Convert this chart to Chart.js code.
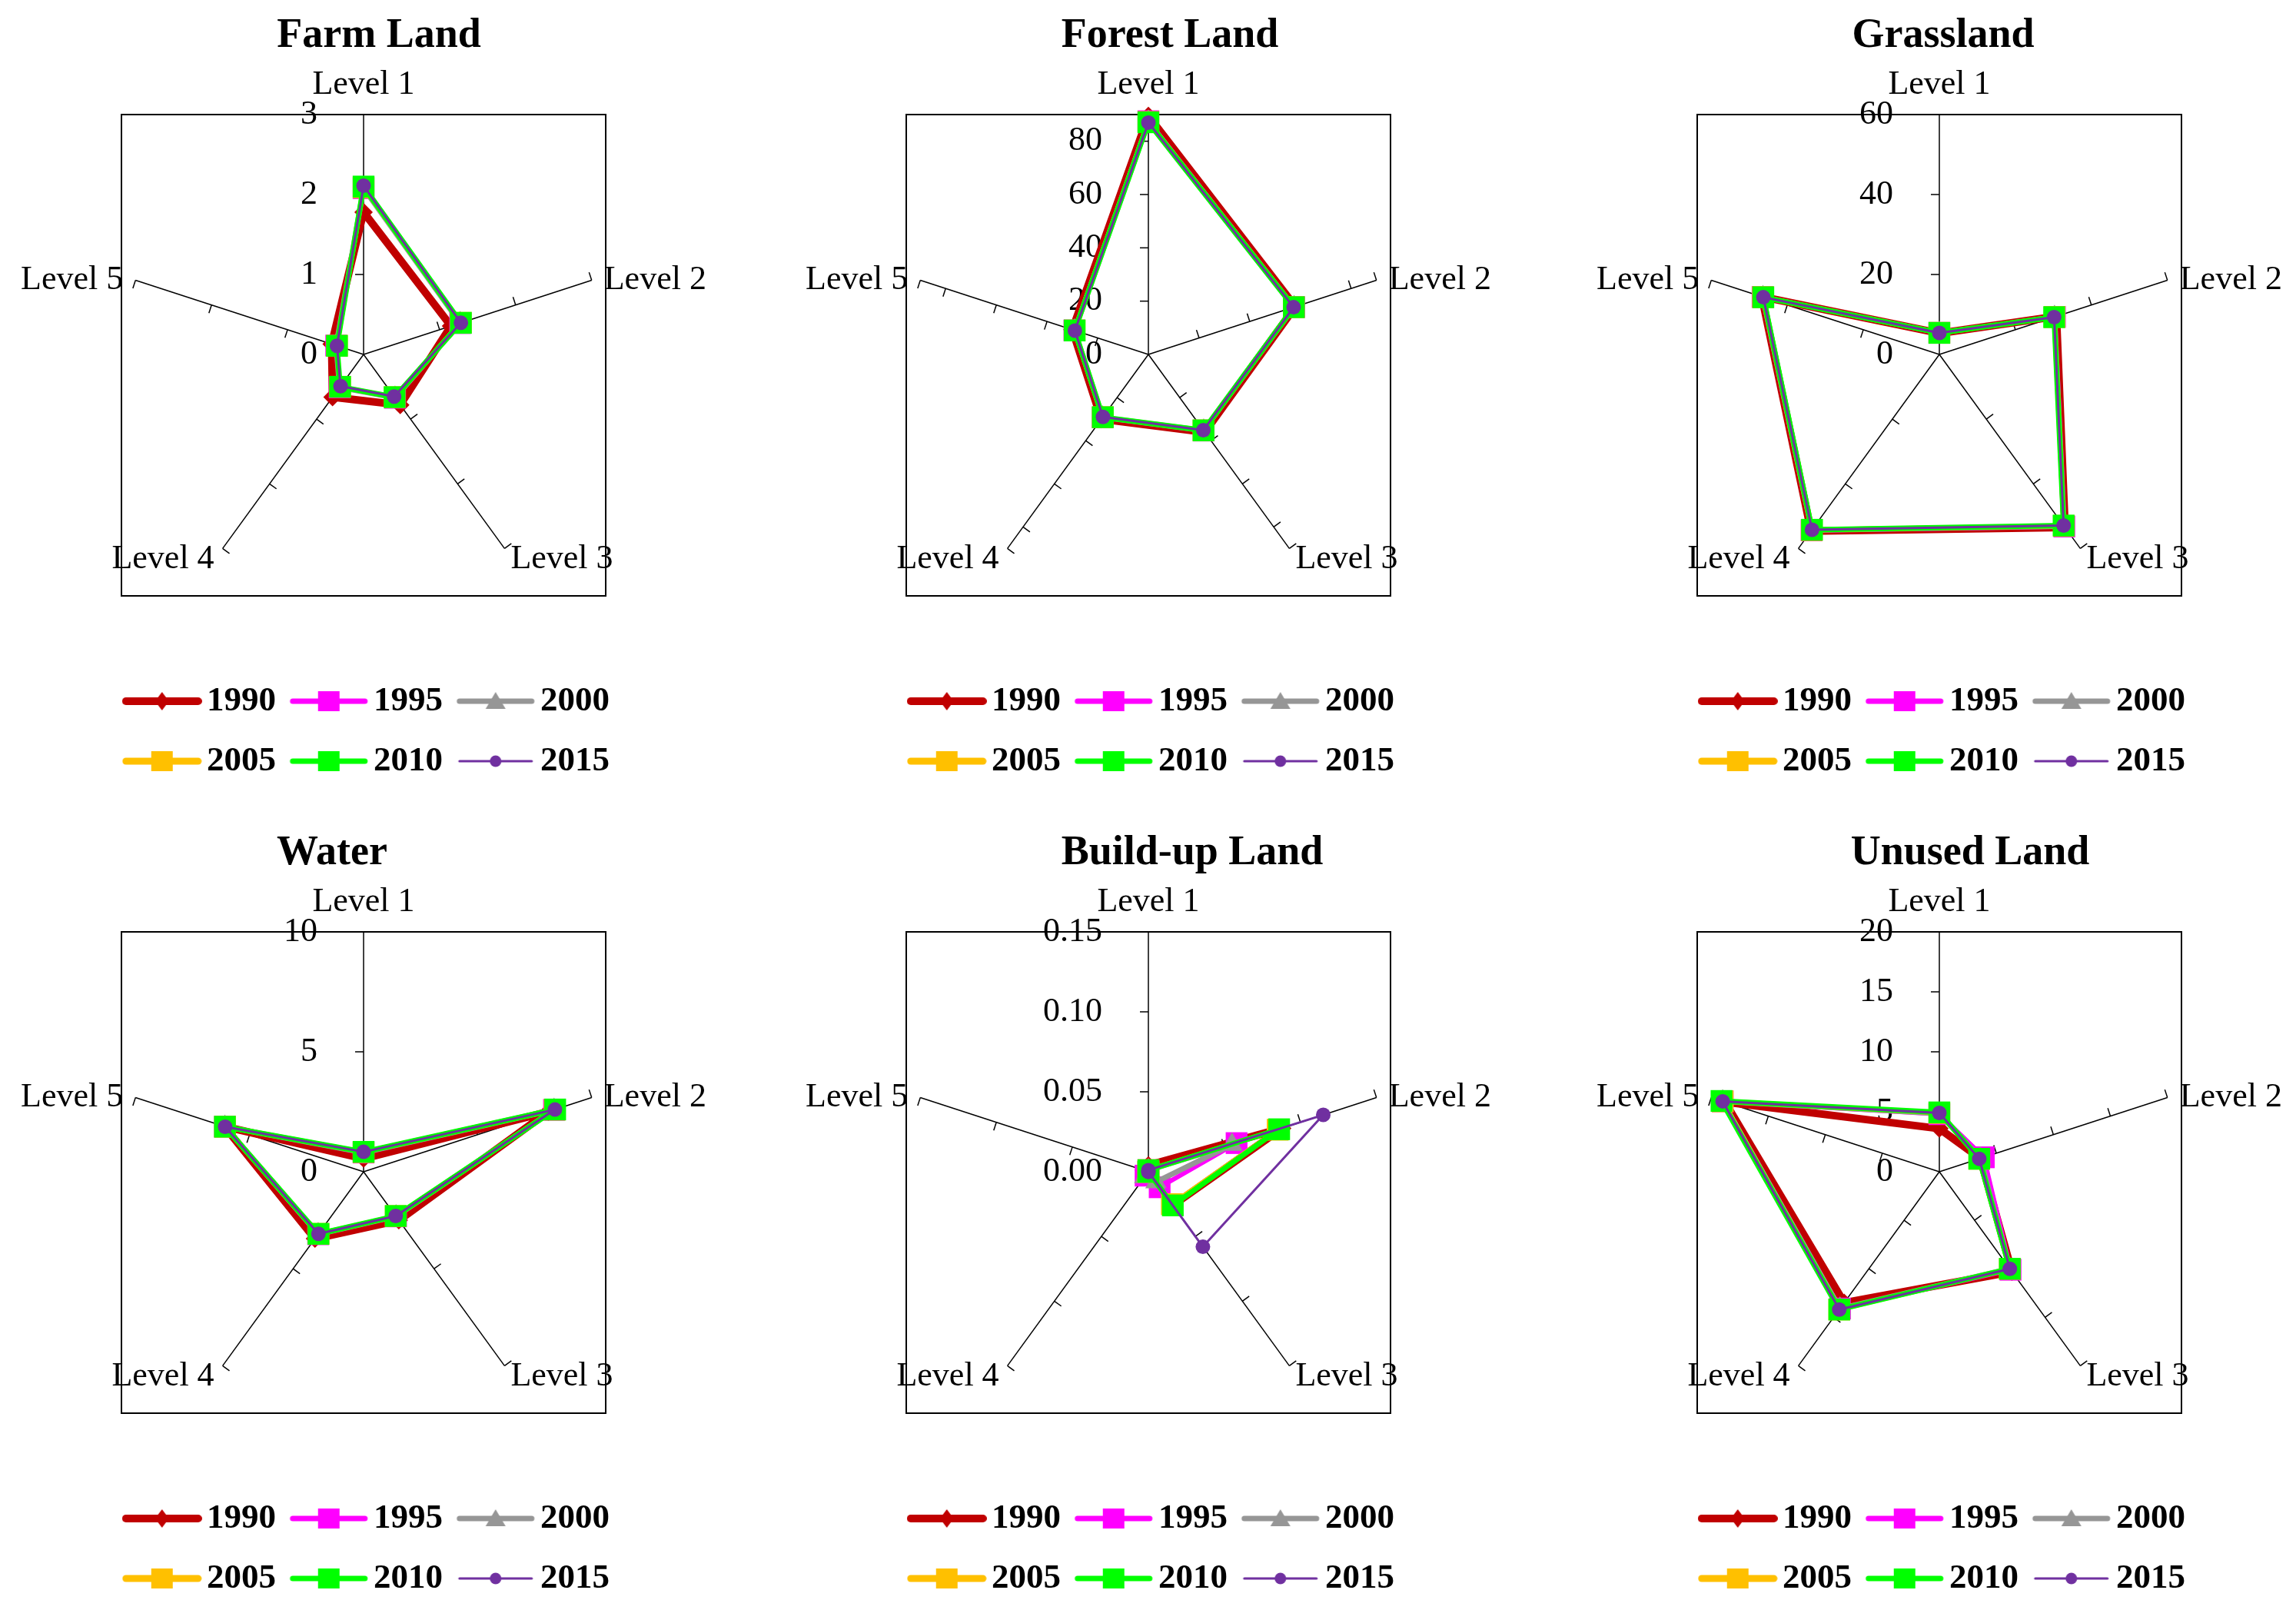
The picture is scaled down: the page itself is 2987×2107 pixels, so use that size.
<!DOCTYPE html>
<html>
<head>
<meta charset="utf-8">
<script src="https://cdn.jsdelivr.net/npm/chart.js@4.4.1/dist/chart.umd.min.js"></script>
<style>
html, body { margin: 0; padding: 0; background: #fff; }
body { width: 2987px; height: 2107px; position: relative; overflow: hidden; }
canvas { position: absolute; }
</style>
</head>
<body>
<canvas id="c0" width="940" height="1044" style="left:3px;top:0px;width:940px;height:1044px"></canvas>
<canvas id="c1" width="940" height="1044" style="left:1024px;top:0px;width:940px;height:1044px"></canvas>
<canvas id="c2" width="940" height="1044" style="left:2053px;top:0px;width:940px;height:1044px"></canvas>
<canvas id="c3" width="940" height="1044" style="left:3px;top:1063px;width:940px;height:1044px"></canvas>
<canvas id="c4" width="940" height="1044" style="left:1024px;top:1063px;width:940px;height:1044px"></canvas>
<canvas id="c5" width="940" height="1044" style="left:2053px;top:1063px;width:940px;height:1044px"></canvas>
<script>
var levels = ['Level 1', 'Level 2', 'Level 3', 'Level 4', 'Level 5']
var years = ['1990', '1995', '2000', '2005', '2010', '2015']
var titles = ['Farm Land', 'Forest Land', 'Grassland', 'Water', 'Build-up Land', 'Unused Land']

// one row per year (1990 ... 2015), one value per level
var farmLand = [
	[1.78, 1.15, 0.78, 0.66, 0.42],
	[2.08, 1.27, 0.67, 0.51, 0.36],
	[2.08, 1.27, 0.67, 0.51, 0.36],
	[2.09, 1.28, 0.66, 0.50, 0.35],
	[2.10, 1.28, 0.66, 0.50, 0.35],
	[2.11, 1.28, 0.65, 0.49, 0.35]
]
var forestLand = [
	[89.5, 58.0, 36.0, 30.0, 30.0],
	[87.5, 57.5, 35.3, 29.2, 29.2],
	[87.3, 57.5, 35.3, 29.2, 29.1],
	[87.2, 57.4, 35.2, 29.1, 29.1],
	[87.1, 57.4, 35.2, 29.1, 29.1],
	[87.0, 57.3, 35.1, 29.0, 29.0]
]
var grassland = [
	[5.3, 30.8, 53.5, 54.6, 46.7],
	[5.4, 30.4, 53.2, 54.4, 46.5],
	[5.4, 30.3, 53.1, 54.3, 46.4],
	[5.4, 30.3, 53.0, 54.3, 46.4],
	[5.4, 30.2, 52.9, 54.2, 46.3],
	[5.4, 30.2, 52.9, 54.2, 46.3]
]
var water = [
	[0.55, 8.10, 2.50, 3.45, 6.10],
	[0.80, 8.35, 2.30, 3.22, 6.08],
	[0.80, 8.35, 2.30, 3.22, 6.08],
	[0.82, 8.38, 2.28, 3.20, 6.07],
	[0.83, 8.40, 2.28, 3.20, 6.08],
	[0.83, 8.39, 2.28, 3.20, 6.07]
]
var buildUp = [
	[0.004, 0.088, 0.026, 0.000, 0.003],
	[0.001, 0.058, 0.012, 0.003, 0.000],
	[0.001, 0.055, 0.008, 0.004, 0.000],
	[0.001, 0.085, 0.025, 0.000, 0.000],
	[0.001, 0.086, 0.026, 0.000, 0.000],
	[0.001, 0.115, 0.058, 0.000, 0.000]
]
var unusedLand = [
	[3.60, 3.6, 10.3, 13.5, 18.8],
	[4.80, 3.9, 10.1, 14.1, 19.0],
	[4.85, 3.6, 10.0, 14.1, 19.0],
	[4.90, 3.5, 10.0, 14.2, 19.0],
	[4.95, 3.5, 10.0, 14.2, 19.1],
	[4.90, 3.5, 10.0, 14.2, 19.0]
]
var axisMax = [3, 90, 60, 10, 0.15, 20]
var axisStep = [1, 20, 20, 5, 0.05, 5]
var tickDigits = [0, 0, 0, 0, 2, 0]

var panelData = [farmLand, forestLand, grassland, water, buildUp, unusedLand]

/* series look */
var lineColors = ['#C00000', '#FF00FF', '#969696', '#FFC000', '#00FF00', '#7030A0']
var lineWidths = [10, 6, 7, 6, 7, 3]
var legendWidths = [10, 7, 7, 9, 7, 3]
var pointStyles = ['rectRot', 'rect', 'triangle', 'rect', 'rect', 'circle']
var pointRadii = [12, 20, 16, 20, 20, 9.5]

/* the titles are not quite centred in the original */
var titleShift = [20, 28, 5, -41, 57, 40]

var serif = "'Liberation Serif', 'Times New Roman', serif"
Chart.defaults.font.family = serif
Chart.defaults.color = '#000'

/* small line+marker pictures for the legend */
function makeSwatch(i) {
	var c = document.createElement('canvas')
	c.width = 104
	c.height = 32
	var g = c.getContext('2d')
	var x = 52, y = 16
	g.strokeStyle = lineColors[i]
	g.fillStyle = lineColors[i]
	g.lineWidth = legendWidths[i]
	g.lineCap = 'round'
	g.beginPath()
	g.moveTo(5, y)
	g.lineTo(99, y)
	g.stroke()
	g.beginPath()
	if (i == 0) {
		g.moveTo(x, y - 12); g.lineTo(x + 9, y); g.lineTo(x, y + 12); g.lineTo(x - 9, y)
	} else if (pointStyles[i] == 'rect') {
		g.rect(x - 14, y - 13, 28, 26)
	} else if (pointStyles[i] == 'triangle') {
		g.moveTo(x, y - 12); g.lineTo(x + 13, y + 10); g.lineTo(x - 13, y + 10)
	} else {
		g.arc(x, y, 7.5, 0, Math.PI * 2)
	}
	g.closePath()
	g.fill()
	return c
}
var swatches = years.map((y, i) => makeSwatch(i))

/* where each level name sits, measured from the end of its spoke */
var labelShift = [[0, -39, 'center'], [16, 0, 'left'], [8, 14, 'left'], [-11, 14, 'right'], [-16, 0, 'right']]

/* frame, spoke ticks, value labels, level names and title (Excel look) */
var decor = {
	id: 'decor',
	beforeDatasetsDraw: function(chart, args, opts) {
		let ctx = chart.ctx
		let s = chart.scales.r
		let R = s.drawingArea, xc = s.xCenter, yc = s.yCenter
		ctx.save()
		ctx.strokeStyle = '#000'
		ctx.lineWidth = 2
		ctx.strokeRect(xc - R - 3, yc - R, 2 * R + 6, 2 * R + 2)

		let marks = s.ticks.map(t => t.value).filter(v => v > 0)
		if (Math.abs(marks[marks.length - 1] - s.max) > 1e-9) marks.push(s.max)
		ctx.lineWidth = 1.5
		for (let i = 0; i < chart.data.labels.length; i++) {
			let a = s.getIndexAngle(i) - Math.PI / 2
			let dx = Math.cos(a), dy = Math.sin(a)
			marks.forEach(v => {
				let p = s.getPointPositionForValue(i, v)
				ctx.beginPath()
				ctx.moveTo(p.x, p.y)
				ctx.lineTo(p.x + dy * 11, p.y - dx * 11)
				ctx.stroke()
			})
		}

		ctx.fillStyle = '#000'
		ctx.font = '44px ' + serif
		ctx.textAlign = 'right'
		ctx.textBaseline = 'middle'
		s.ticks.forEach(t => {
			ctx.fillText(t.value.toFixed(opts.digits), xc - 60, yc - s.getDistanceFromCenterForValue(t.value))
		})

		chart.data.labels.forEach((name, i) => {
			let p = s.getPointPositionForValue(i, s.max)
			let sh = labelShift[i]
			ctx.textAlign = sh[2]
			ctx.fillText(name, p.x + sh[0], p.y + sh[1])
		})

		ctx.font = 'bold 54px ' + serif
		ctx.textAlign = 'center'
		ctx.fillText(opts.title, xc + opts.shift, 47)
		ctx.restore()
	}
}

panelData.forEach((rows, k) => {
	new Chart(document.getElementById('c' + k), {
		type: 'radar',
		data: {
			labels: levels,
			datasets: years.map((yr, i) => ({
				label: yr,
				data: rows[i],
				borderColor: lineColors[i],
				backgroundColor: lineColors[i],
				borderWidth: lineWidths[i],
				borderJoinStyle: 'round',
				pointStyle: pointStyles[i],
				pointRadius: pointRadii[i],
				pointBackgroundColor: lineColors[i],
				pointBorderWidth: 0,
				fill: false,
				order: years.length - i
			}))
		},
		options: {
			responsive: false,
			devicePixelRatio: 1,
			animation: false,
			events: [],
			layout: { padding: { left: 117, right: 117, top: 149.8, bottom: 21.5 } },
			scales: {
				r: {
					min: 0,
					max: axisMax[k],
					startAngle: 0,
					ticks: { display: false, stepSize: axisStep[k], includeBounds: false },
					grid: { display: false },
					angleLines: { display: true, color: '#000', lineWidth: 1.5 },
					pointLabels: { display: false }
				}
			},
			plugins: {
				decor: { digits: tickDigits[k], title: titles[k], shift: titleShift[k] },
				tooltip: { enabled: false },
				title: { display: false },
				legend: {
					position: 'bottom',
					align: 'end',
					title: { display: true, text: '', font: { size: 10 }, padding: { top: 35.35, bottom: 35.35 } },
					labels: {
						usePointStyle: true,
						pointStyleWidth: 71.5,
						padding: 33,
						color: '#000',
						font: { family: serif, size: 45, weight: 'bold' },
						generateLabels: function(chart) {
							return years.map((yr, i) => ({
								text: yr,
								pointStyle: swatches[i],
								datasetIndex: i,
								hidden: false,
								fontColor: '#000',
								lineWidth: 0,
								strokeStyle: 'rgba(0,0,0,0)',
								fillStyle: 'rgba(0,0,0,0)'
							}))
						}
					}
				}
			}
		},
		plugins: [decor]
	})
})
</script>
</body>
</html>
